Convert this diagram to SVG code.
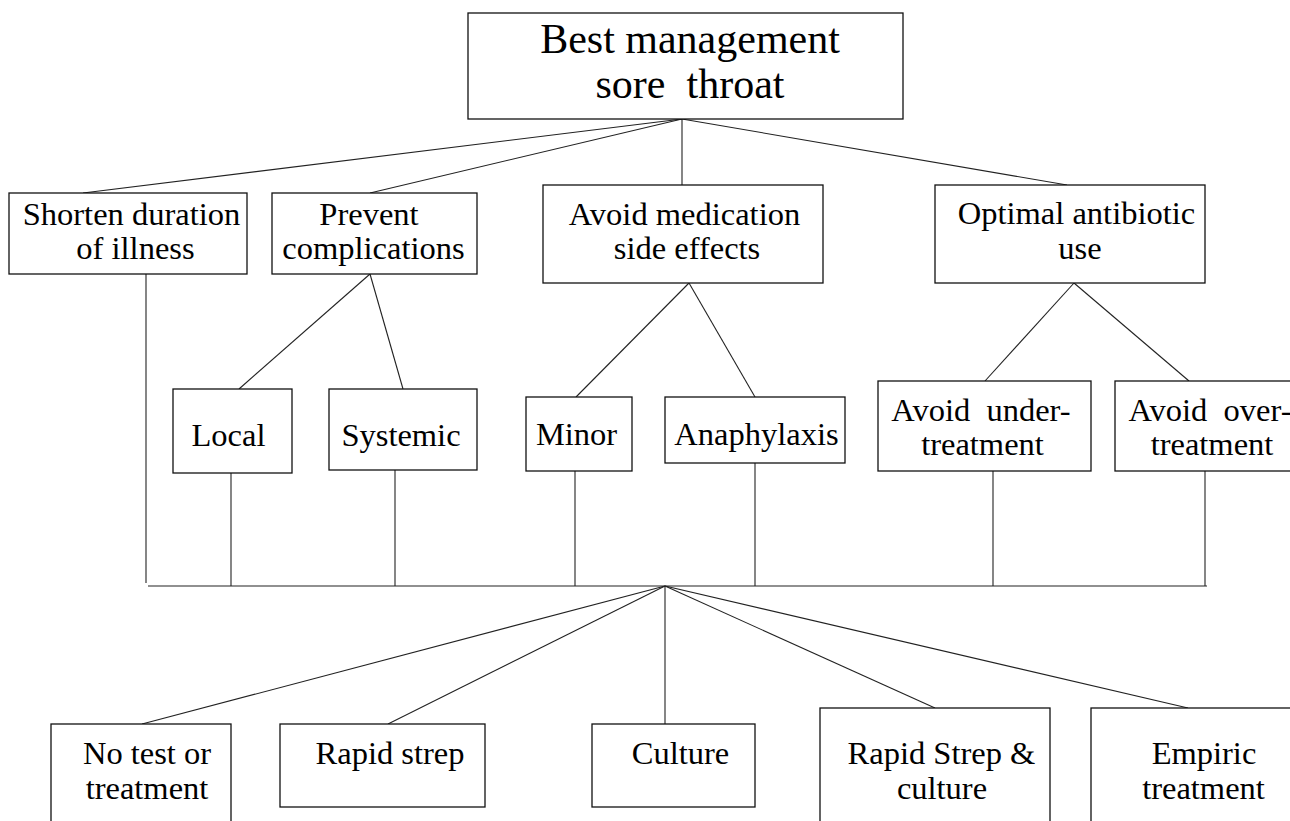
<svg xmlns="http://www.w3.org/2000/svg" width="1290" height="821" viewBox="0 0 1290 821">
<rect x="0" y="0" width="1290" height="821" fill="#fff"/>
<g id="connectors" stroke="#222" stroke-width="1.1" fill="none">
<line x1="682" y1="119" x2="83" y2="193"/>
<line x1="682" y1="119" x2="370" y2="193"/>
<line x1="682" y1="119" x2="682" y2="185"/>
<line x1="682" y1="119" x2="1067" y2="185"/>
<line x1="370" y1="274" x2="239" y2="389"/>
<line x1="370" y1="274" x2="403" y2="389"/>
<line x1="689" y1="283" x2="576" y2="397"/>
<line x1="689" y1="283" x2="755" y2="397"/>
<line x1="1074" y1="283" x2="985" y2="381"/>
<line x1="1074" y1="283" x2="1189" y2="381"/>
<line x1="146" y1="274" x2="146" y2="583"/>
<line x1="231" y1="473" x2="231" y2="586"/>
<line x1="395" y1="470" x2="395" y2="586"/>
<line x1="575" y1="471" x2="575" y2="586"/>
<line x1="755" y1="463" x2="755" y2="586"/>
<line x1="993" y1="471" x2="993" y2="586"/>
<line x1="1205" y1="471" x2="1205" y2="586"/>
<line x1="148" y1="586" x2="1207" y2="586"/>
<line x1="665" y1="586" x2="142" y2="724"/>
<line x1="665" y1="586" x2="388" y2="724"/>
<line x1="665" y1="586" x2="665" y2="724"/>
<line x1="665" y1="586" x2="935" y2="708"/>
<line x1="665" y1="586" x2="1188" y2="708"/>
</g>
<g id="nodes" font-family="Liberation Serif" font-size="32.5" text-anchor="middle" fill="#000">
<g id="root">
<rect x="468" y="13" width="435" height="106" fill="#fff" stroke="#111" stroke-width="1.3"/>
<text font-size="42" x="690" y="53">Best management</text>
<text font-size="42" x="690" y="98" xml:space="preserve">sore  throat</text>
</g>
<g id="shorten">
<rect x="9" y="193" width="238" height="81" fill="#fff" stroke="#111" stroke-width="1.3"/>
<text x="131.5" y="225">Shorten duration</text>
<text x="135.5" y="259">of illness</text>
</g>
<g id="prevent">
<rect x="272" y="193" width="205" height="81" fill="#fff" stroke="#111" stroke-width="1.3"/>
<text x="369" y="225">Prevent</text>
<text x="373.5" y="259">complications</text>
</g>
<g id="avoid-med">
<rect x="543" y="185" width="280" height="98" fill="#fff" stroke="#111" stroke-width="1.3"/>
<text x="684.5" y="225">Avoid medication</text>
<text x="687" y="259">side effects</text>
</g>
<g id="optimal">
<rect x="935" y="185" width="270" height="98" fill="#fff" stroke="#111" stroke-width="1.3"/>
<text x="1076.5" y="224">Optimal antibiotic</text>
<text x="1080" y="259">use</text>
</g>
<g id="local">
<rect x="173" y="389" width="119" height="84" fill="#fff" stroke="#111" stroke-width="1.3"/>
<text x="228.5" y="446">Local</text>
</g>
<g id="systemic">
<rect x="329" y="389" width="148" height="81" fill="#fff" stroke="#111" stroke-width="1.3"/>
<text x="401" y="446">Systemic</text>
</g>
<g id="minor">
<rect x="526" y="397" width="106" height="74" fill="#fff" stroke="#111" stroke-width="1.3"/>
<text x="576.5" y="445">Minor</text>
</g>
<g id="anaphylaxis">
<rect x="665" y="397" width="180" height="66" fill="#fff" stroke="#111" stroke-width="1.3"/>
<text x="756.5" y="445">Anaphylaxis</text>
</g>
<g id="avoid-under">
<rect x="878" y="381" width="213" height="90" fill="#fff" stroke="#111" stroke-width="1.3"/>
<text x="981" y="421" xml:space="preserve">Avoid  under-</text>
<text x="982.5" y="455">treatment</text>
</g>
<g id="avoid-over">
<rect x="1115" y="381" width="190" height="90" fill="#fff" stroke="#111" stroke-width="1.3"/>
<text x="1210" y="421" xml:space="preserve">Avoid  over-</text>
<text x="1212" y="455">treatment</text>
</g>
<g id="no-test">
<rect x="51" y="724" width="180" height="110" fill="#fff" stroke="#111" stroke-width="1.3"/>
<text x="147" y="764">No test or</text>
<text x="147" y="799">treatment</text>
</g>
<g id="rapid-strep">
<rect x="280" y="724" width="205" height="83" fill="#fff" stroke="#111" stroke-width="1.3"/>
<text x="390" y="764">Rapid strep</text>
</g>
<g id="culture">
<rect x="592" y="724" width="163" height="83" fill="#fff" stroke="#111" stroke-width="1.3"/>
<text x="680.5" y="764">Culture</text>
</g>
<g id="rapid-culture">
<rect x="820" y="708" width="230" height="126" fill="#fff" stroke="#111" stroke-width="1.3"/>
<text x="941.5" y="764">Rapid Strep &amp;</text>
<text x="942" y="799">culture</text>
</g>
<g id="empiric">
<rect x="1091" y="708" width="220" height="126" fill="#fff" stroke="#111" stroke-width="1.3"/>
<text x="1204" y="764">Empiric</text>
<text x="1203.5" y="799">treatment</text>
</g>
</g>
</svg>
